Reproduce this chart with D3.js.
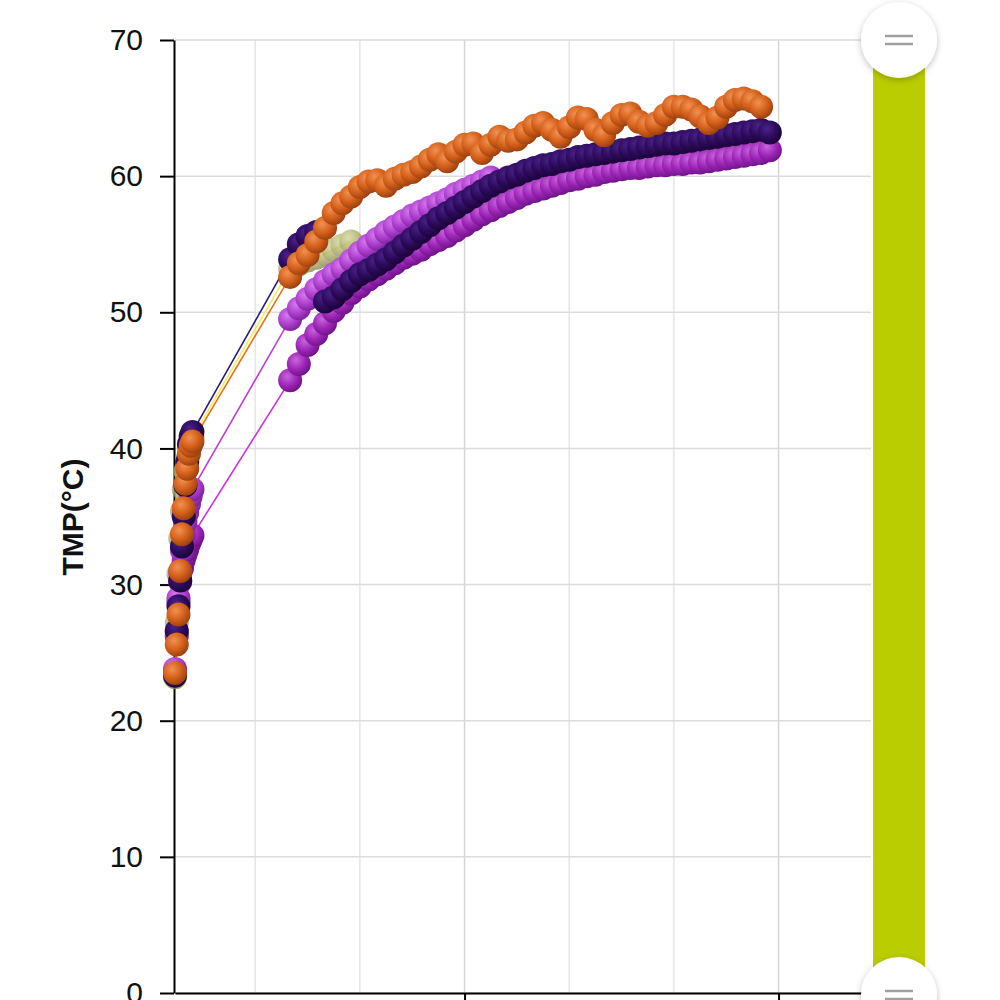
<!DOCTYPE html>
<html>
<head>
<meta charset="utf-8">
<script src="https://cdn.jsdelivr.net/npm/d3@7"></script>
<style>
  body { margin: 0; background: #fff; }
  svg { display: block; font-family: "Liberation Sans", Arial, sans-serif; }
</style>
</head>
<body>
<svg id="chart" width="1000" height="1000"></svg>
<script>
// readings, first few minutes (one per minute)
const earlyTimes = ["09:14","09:15","09:16","09:17","09:18","09:19","09:20","09:21","09:22","09:23","09:24"];
// readings after the gap (every 5 minutes)
const lateTimes = ["10:20","10:25","10:30","10:35","10:40","10:45","10:50","10:55","11:00","11:05",
  "11:10","11:15","11:20","11:25","11:30","11:35","11:40","11:45","11:50","11:55",
  "12:00","12:05","12:10","12:15","12:20","12:25","12:30","12:35","12:40","12:45",
  "12:50","12:55","13:00","13:05","13:10","13:15","13:20","13:25","13:30","13:35",
  "13:40","13:45","13:50","13:55","14:00","14:05","14:10","14:15","14:20","14:25",
  "14:30","14:35","14:40","14:45","14:50","14:55"];

const yTicks = [0, 10, 20, 30, 40, 50, 60, 70];
const timeDomain = ["09:14", "15:53"];

// sensor 1 (khaki)
const khakiEarly = [23.2, 27.2, 30.8, 33.4, 35.4, 37.0, 38.3, 39.2, 39.9, 40.4, 40.8];
const khakiLate = [53.2, 53.5, 53.8, 54.0, 54.3, 54.6, 54.9, 55.2];
// sensor 2 (magenta, lower)
const magentaEarly = [23.6, 26.2, 28.7, 30.2, 31.2, 31.8, 32.2, 32.6, 33.0, 33.3, 33.6];
const magentaLate = [45.0, 46.2, 47.6, 48.4, 49.2, 50.1, 50.7, 51.4, 51.9, 52.4,
  52.8, 53.2, 53.6, 54.0, 54.3, 54.6, 55.0, 55.3, 55.6, 56.0,
  56.4, 56.8, 57.2, 57.5, 57.8, 58.1, 58.4, 58.7, 58.9, 59.1,
  59.3, 59.5, 59.7, 59.8, 60.0, 60.1, 60.3, 60.4, 60.5, 60.6,
  60.6, 60.7, 60.8, 60.8, 60.9, 60.9, 61.0, 61.0, 61.1, 61.2,
  61.3, 61.4, 61.5, 61.6, 61.7, 61.9];
// sensor 3 (violet, upper)
const violetEarly = [23.8, 26.5, 29.0, 30.9, 32.5, 33.7, 34.6, 35.3, 35.9, 36.5, 37.0];
const violetLate = [49.5, 50.3, 51.0, 51.7, 52.3, 52.8, 53.2, 53.8, 54.4, 54.9,
  55.4, 55.9, 56.3, 56.7, 57.1, 57.4, 57.7, 58.0, 58.3, 58.7,
  59.0, 59.3, 59.6, 59.9];
// sensor 4 (indigo)
const indigoEarly = [23.3, 26.6, 28.4, 30.3, 32.8, 35.0, 37.3, 39.0, 40.3, 40.9, 41.2];
const indigoLate = [53.9, 55.0, 55.6, 55.9];
// sensor 5 (indigo, second run from 10:40)
const indigo2Late = [50.8, 51.1, 51.7, 52.3, 52.8, 53.1, 53.5, 53.9, 54.4, 54.9,
  55.4, 55.9, 56.4, 56.9, 57.3, 57.7, 58.1, 58.5, 58.9, 59.3,
  59.6, 59.9, 60.1, 60.4, 60.6, 60.8, 60.9, 61.1, 61.2, 61.4,
  61.5, 61.6, 61.7, 61.8, 61.9, 62.0, 62.1, 62.2, 62.3, 62.4,
  62.4, 62.5, 62.6, 62.7, 62.8, 62.9, 63.0, 63.1, 63.2, 63.3,
  63.4, 63.2];
// sensor 6 (orange)
const orangeEarly = [23.5, 25.6, 27.8, 31.0, 33.7, 35.6, 37.4, 38.5, 39.6, 40.2, 40.5];
const orangeLate = [52.6, 53.6, 54.2, 55.2, 56.2, 57.3, 58.0, 58.5, 59.2, 59.6,
  59.7, 59.3, 59.8, 60.1, 60.3, 60.7, 61.2, 61.6, 61.1, 61.8,
  62.3, 62.4, 61.7, 62.3, 62.9, 62.6, 62.7, 63.2, 63.7, 63.9,
  63.4, 62.9, 63.6, 64.3, 64.2, 63.4, 63.0, 63.9, 64.5, 64.6,
  64.0, 63.7, 63.9, 64.5, 65.1, 65.1, 64.9, 64.4, 63.9, 64.3,
  65.1, 65.6, 65.7, 65.5, 65.1];

const parseT = t => { const p = t.split(":"); return new Date(Date.UTC(2024, 0, 1, +p[0], +p[1])); };

function makeSeries(id, line, ball, early, late, lateStart) {
  const times = (early ? earlyTimes : []).concat(lateTimes.slice(lateStart, lateStart + late.length));
  const values = (early || []).concat(late);
  return { id, line, ball, points: times.map((t, i) => ({ t: parseT(t), v: values[i] })) };
}

// drawing order = back to front
const series = [
  makeSeries("khaki",   "#f4ec5c", ["#d6d69a", "#afb06c", "#858650"], khakiEarly, khakiLate, 0),
  makeSeries("magenta", "#cc30e0", ["#c865dc", "#9e26b8", "#6c1285"], magentaEarly, magentaLate, 0),
  makeSeries("violet",  "#c23cd8", ["#d77ced", "#ae40d0", "#7b1f98"], violetEarly, violetLate, 0),
  makeSeries("indigo2", "#2b1a7a", ["#4a2289", "#2d0b5c", "#180336"], null, indigo2Late, 4),
  makeSeries("indigo",  "#2b1a7a", ["#4a2289", "#2d0b5c", "#180336"], indigoEarly, indigoLate, 0),
  makeSeries("orange",  "#e8731f", ["#f39150", "#d3601b", "#983e0e"], orangeEarly, orangeLate, 0)
];

const svg = d3.select("#chart");
const plotLeft = 175, plotRight = 871, plotTop = 40, plotBottom = 993;

const x = d3.scaleUtc().domain(timeDomain.map(parseT)).range([plotLeft, plotRight]);
const y = d3.scaleLinear().domain([0, 70]).range([plotBottom, plotTop]);

const defs = svg.append("defs");
series.forEach(s => {
  const g = defs.append("radialGradient").attr("id", "ball-" + s.id)
    .attr("cx", "38%").attr("cy", "34%").attr("r", "70%");
  g.append("stop").attr("offset", "0%").attr("stop-color", s.ball[0]);
  g.append("stop").attr("offset", "55%").attr("stop-color", s.ball[1]);
  g.append("stop").attr("offset", "100%").attr("stop-color", s.ball[2]);
});
const shadow = defs.append("filter").attr("id", "shadow")
  .attr("x", "-30%").attr("y", "-30%").attr("width", "160%").attr("height", "160%");
shadow.append("feDropShadow").attr("dx", 0).attr("dy", 2).attr("stdDeviation", 3)
  .attr("flood-color", "#000").attr("flood-opacity", 0.25);

// grid
const hourTicks = x.ticks(d3.utcHour.every(1));
svg.append("g").selectAll("line").data(hourTicks).join("line")
  .attr("x1", d => x(d)).attr("x2", d => x(d))
  .attr("y1", plotTop).attr("y2", plotBottom)
  .attr("stroke", d => d.getUTCHours() % 3 === 0 ? "#d6d6d6" : "#e6e6e6")
  .attr("stroke-width", 1.5);
svg.append("g").selectAll("line").data(yTicks).join("line")
  .attr("x1", plotLeft).attr("x2", plotRight)
  .attr("y1", d => y(d)).attr("y2", d => y(d))
  .attr("stroke", "#dcdcdc").attr("stroke-width", 1.5);

// axes (time labels sit below the visible area, so only the ticks are drawn)
const yAxis = svg.append("g").attr("transform", `translate(${plotLeft - 1},0)`)
  .call(d3.axisLeft(y).tickValues(yTicks).tickSize(14).tickSizeOuter(0).tickPadding(17));
yAxis.selectAll("text").attr("font-size", 30).attr("fill", "#111")
  .attr("font-family", "'Liberation Sans', Arial, sans-serif");

const xAxis = svg.append("g").attr("transform", `translate(0,${plotBottom})`)
  .call(d3.axisBottom(x).ticks(d3.utcHour.every(3)).tickFormat("")
    .tickSize(14).tickSizeOuter(0));

[yAxis, xAxis].forEach(a => {
  a.select(".domain").attr("stroke", "#000").attr("stroke-width", 2);
  a.selectAll(".tick line").attr("stroke", "#000").attr("stroke-width", 2);
});

svg.append("text")
  .attr("transform", "translate(72,517) rotate(-90)")
  .attr("text-anchor", "middle").attr("dy", "0.35em")
  .attr("font-size", 30).attr("font-weight", "bold").attr("fill", "#111")
  .text("TMP(°C)");

// series lines (under all balls)
const line = d3.line().x(d => x(d.t)).y(d => y(d.v));
svg.append("g").selectAll("path").data(series).join("path")
  .attr("d", d => line(d.points))
  .attr("fill", "none").attr("stroke", d => d.line).attr("stroke-width", 1.6);

// balls
series.forEach(s => {
  svg.append("g").attr("opacity", s.id === "khaki" ? 0.8 : 1)
    .selectAll("circle").data(s.points).join("circle")
    .attr("cx", d => x(d.t)).attr("cy", d => y(d.v)).attr("r", 12)
    .attr("fill", `url(#ball-${s.id})`);
});

// range slider on the right
const sliderX = 899;
svg.append("rect").attr("x", sliderX - 26).attr("y", plotTop).attr("width", 52)
  .attr("height", plotBottom + 2 - plotTop).attr("fill", "#bacd00");
[plotTop, plotBottom + 2].forEach(cy => {
  const h = svg.append("g").attr("transform", `translate(${sliderX},${cy})`);
  h.append("circle").attr("r", 38).attr("fill", "#fff").attr("filter", "url(#shadow)");
  [-4, 4].forEach(dy => h.append("line")
    .attr("x1", -14).attr("x2", 14).attr("y1", dy).attr("y2", dy)
    .attr("stroke", "#a0a0a0").attr("stroke-width", 2.5));
});
</script>
</body>
</html>
